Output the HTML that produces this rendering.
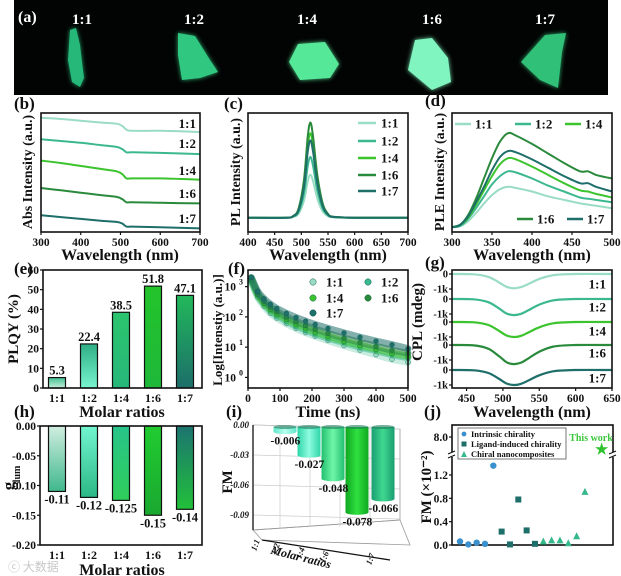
<!DOCTYPE html>
<html><head><meta charset="utf-8">
<style>
html,body{margin:0;padding:0;background:#fff;}
svg{display:block;font-family:"Liberation Serif","Noto Serif CJK SC",serif;}
.t{font-weight:bold;fill:#111;}
</style></head>
<body>
<svg id="fig" width="621" height="576" viewBox="0 0 621 576" xmlns="http://www.w3.org/2000/svg">
<defs>
<filter id="glow" x="-50%" y="-50%" width="200%" height="200%"><feGaussianBlur stdDeviation="2.5"/></filter>
<linearGradient id="ge0" x1="0" y1="0" x2="0" y2="1"><stop offset="0" stop-color="#3fbf90"/><stop offset="1" stop-color="#c8eedf"/></linearGradient>
<linearGradient id="ge1" x1="0" y1="0" x2="0" y2="1"><stop offset="0" stop-color="#2fae84"/><stop offset="1" stop-color="#78f5cf"/></linearGradient>
<linearGradient id="ge2" x1="0" y1="0" x2="0" y2="1"><stop offset="0" stop-color="#2cc46e"/><stop offset="1" stop-color="#26b87a"/></linearGradient>
<linearGradient id="ge3" x1="0" y1="0" x2="0" y2="1"><stop offset="0" stop-color="#22c42a"/><stop offset="1" stop-color="#1fb83a"/></linearGradient>
<linearGradient id="ge4" x1="0" y1="0" x2="0" y2="1"><stop offset="0" stop-color="#22b85a"/><stop offset="1" stop-color="#1c6e6a"/></linearGradient>
<linearGradient id="gh0" x1="0" y1="0" x2="0" y2="1"><stop offset="0" stop-color="#d0eee0"/><stop offset="1" stop-color="#3fb88c"/></linearGradient>
<linearGradient id="gh1" x1="0" y1="0" x2="0" y2="1"><stop offset="0" stop-color="#72f5d0"/><stop offset="1" stop-color="#2cb886"/></linearGradient>
<linearGradient id="gh2" x1="0" y1="0" x2="0" y2="1"><stop offset="0" stop-color="#28c48a"/><stop offset="1" stop-color="#2ece5a"/></linearGradient>
<linearGradient id="gh3" x1="0" y1="0" x2="0" y2="1"><stop offset="0" stop-color="#20cc30"/><stop offset="1" stop-color="#1aa830"/></linearGradient>
<linearGradient id="gh4" x1="0" y1="0" x2="0" y2="1"><stop offset="0" stop-color="#1c7470"/><stop offset="1" stop-color="#22c03a"/></linearGradient>
<linearGradient id="gi0" x1="0" y1="0" x2="1" y2="0"><stop offset="0" stop-color="#5fe6c8"/><stop offset=".5" stop-color="#b8fff0"/><stop offset="1" stop-color="#5fe6c8"/></linearGradient>
<linearGradient id="gi1" x1="0" y1="0" x2="1" y2="0"><stop offset="0" stop-color="#2ed6a8"/><stop offset=".5" stop-color="#8ffbe0"/><stop offset="1" stop-color="#2ed6a8"/></linearGradient>
<linearGradient id="gi2" x1="0" y1="0" x2="1" y2="0"><stop offset="0" stop-color="#22c070"/><stop offset=".5" stop-color="#70f5a8"/><stop offset="1" stop-color="#22c070"/></linearGradient>
<linearGradient id="gi3" x1="0" y1="0" x2="1" y2="0"><stop offset="0" stop-color="#0fa820"/><stop offset=".5" stop-color="#30e040"/><stop offset="1" stop-color="#0fa820"/></linearGradient>
<linearGradient id="gi4" x1="0" y1="0" x2="1" y2="0"><stop offset="0" stop-color="#1a9e70"/><stop offset=".5" stop-color="#40d890"/><stop offset="1" stop-color="#1a9e70"/></linearGradient>
</defs>
</svg>
<script>
// ---------- DATA ----------
const ratios = ["1:1","1:2","1:4","1:6","1:7"];
const absWl = [300,350,400,450,490,505,515,530,600,700];
const abs11 = [9.6,9.5,9.35,9.2,9.1,8.9,8.6,8.5,8.5,8.4];
const abs12 = [7.8,7.65,7.5,7.3,7.15,6.95,6.7,6.7,6.65,6.55];
const abs14 = [6.0,5.8,5.55,5.3,5.1,4.85,4.5,4.5,4.5,4.4];
const abs16 = [3.7,3.5,3.3,3.1,2.95,2.75,2.5,2.5,2.45,2.4];
const abs17 = [1.4,1.25,1.1,0.95,0.85,0.7,0.45,0.45,0.4,0.3];
const plWl = [400,470,485,495,505,512,517,522,530,540,550,560,600,700];
const pl11 = [12,12,12.7,15.6,26.4,42.6,48,42.6,28.2,17.4,13.4,12.4,12,12];
const pl12 = [12,12,13,17.1,32.4,55.4,63,55.4,35,19.7,14,12.5,12,12];
const pl14 = [12,12,13.4,19.1,40.4,72.4,83,72.4,44,22.7,14.8,12.7,12,12];
const pl16 = [12,12,13.6,20,44,80,92,80,48,24,15.2,12.8,12,12];
const pl17 = [12,12,13.3,18.5,38,67.3,77,67.3,41.3,21.8,14.6,12.7,12,12];
const pleWl = [300,310,320,330,340,350,360,370,380,400,420,440,460,470,480,500];
const ple11 = [4,5,9,16,24,31,36,38,37,34,30,27,24,23,22,20];
const ple12 = [4,5,11,20,30,40,47,51,50,45,39,34,29,28,27,25];
const ple14 = [4,6,12,23,35,47,57,62,61,55,48,41,35,34,32,29];
const ple16 = [4,6,14,28,45,62,76,83,81,74,66,58,51,51,48,45];
const ple17 = [4,6,13,25,38,52,63,68,67,61,54,47,41,41,38,34];
const plqy = [5.3,22.4,38.5,51.8,47.1];
const decayT = [10,30,50,70,90,120,150,180,210,250,300,350,400,450,500];
const decay11 = [3.15,2.65,2.35,2.12,1.96,1.78,1.62,1.48,1.36,1.22,1.05,0.9,0.75,0.6,0.5];
const decay12 = [3.2,2.72,2.42,2.2,2.04,1.86,1.7,1.56,1.44,1.3,1.15,1.0,0.88,0.75,0.65];
const decay14 = [3.25,2.75,2.45,2.25,2.1,1.92,1.76,1.63,1.5,1.36,1.2,1.06,0.93,0.8,0.7];
const decay16 = [3.3,2.8,2.52,2.33,2.18,2.0,1.85,1.72,1.6,1.46,1.3,1.16,1.03,0.9,0.8];
const decay17 = [3.3,2.85,2.6,2.42,2.28,2.12,1.98,1.86,1.75,1.62,1.47,1.33,1.2,1.08,0.95];
const cplWl = [430,460,480,495,505,515,525,535,550,570,600,650];
const cpl11 = [0,-20,-190,-570,-855,-950,-875,-665,-330,-75,0,0];
const cpl12 = [0,-20,-215,-640,-965,-1070,-985,-750,-375,-85,0,0];
const cpl14 = [0,-20,-200,-600,-900,-1000,-920,-700,-350,-80,0,0];
const cpl16 = [0,-25,-255,-760,-1145,-1270,-1170,-890,-445,-100,0,0];
const cpl17 = [0,-20,-200,-600,-900,-1000,-920,-700,-350,-80,0,0];
const glum = [-0.11,-0.12,-0.125,-0.15,-0.14];
const glumLabels = ["-0.11","-0.12","-0.125","-0.15","-0.14"];
const fm = [-0.006,-0.027,-0.048,-0.078,-0.066];
const fmLabels = ["-0.006","-0.027","-0.048","-0.078","-0.066"];
const fmIntrinsic = [0.06,0.01,0.04,0.02,1.36];
const fmLigand = [0.23,0.01,0.78,0.25,0.02];
const fmComposite = [0.06,0.08,0.08,0.03,0.15,0.91];
const fmThisWork = [7.2];

// ---------- HELPERS ----------
const svg = document.getElementById('fig');
const NS = 'http://www.w3.org/2000/svg';
const COLORS = ["#9adcc4","#3cb890","#3cc42e","#2a8a3c","#1e6e6a"];
function mk(tag, attrs, parent){const e=document.createElementNS(NS,tag);for(const k in attrs)e.setAttribute(k,attrs[k]);(parent||svg).appendChild(e);return e;}
function lin(d0,d1,r0,r1){return v=>r0+(v-d0)*(r1-r0)/(d1-d0);}
function txt(x,y,s,size,anchor,extra){const e=mk('text',Object.assign({x:x,y:y,'font-size':size,'text-anchor':anchor||'middle',class:'t'},extra||{}));if(extra&&extra.fill)e.style.fill=extra.fill;e.textContent=s;return e;}
function smooth(p){let d='M'+p[0][0].toFixed(1)+','+p[0][1].toFixed(1);for(let i=0;i<p.length-1;i++){const p0=p[i-1]||p[i],p1=p[i],p2=p[i+1],p3=p[i+2]||p2;const c1x=p1[0]+(p2[0]-p0[0])/6,c1y=p1[1]+(p2[1]-p0[1])/6,c2x=p2[0]-(p3[0]-p1[0])/6,c2y=p2[1]-(p3[1]-p1[1])/6;d+=' C'+c1x.toFixed(1)+','+c1y.toFixed(1)+' '+c2x.toFixed(1)+','+c2y.toFixed(1)+' '+p2[0].toFixed(1)+','+p2[1].toFixed(1);}return d;}
function box(x0,y0,x1,y1){return mk('rect',{x:x0,y:y0,width:x1-x0,height:y1-y0,fill:'none',stroke:'#111','stroke-width':1.6});}
function xticks(vals,sx,yb,fmt){vals.forEach(v=>{const x=sx(v);mk('line',{x1:x,y1:yb,x2:x,y2:yb+3,stroke:'#111','stroke-width':1.2});const t=txt(x,yb+14,fmt?fmt(v):String(v),11.5);

});}
function yticks(vals,sy,xl,labels){vals.forEach((v,i)=>{const y=sy(v);mk('line',{x1:xl-3,y1:y,x2:xl,y2:y,stroke:'#111','stroke-width':1.2});const t=txt(xl-4,y+4,labels?labels[i]:String(v),11.5,'end');

});}

// ---------- (a) photos ----------
const photo = mk('rect',{x:14,y:0,width:594,height:95,fill:'#020403'});


const pa = txt(18,22,'(a)',16,'start',{fill:'#fff'});


const photoLabelX=[82,194,307,432,545];
const pieces=[
 ["70,30 76,28 80,45 82,62 84,78 80,87 72,82 68,60","#25b878"],
 ["178,33 195,36 210,60 218,72 200,78 182,80 178,55","#30c880"],
 ["298,44 325,42 339,64 330,78 300,80 289,62","#55e898"],
 ["415,40 432,38 448,58 451,82 432,90 408,70","#80f5c0"],
 ["545,35 566,33 562,52 558,88 540,80 521,62","#30c078"]];
ratios.forEach((r,i)=>{
 const l=txt(photoLabelX[i],24,r,15,'middle',{fill:'#fff'});
 
 
 mk('polygon',{points:pieces[i][0],fill:pieces[i][1],filter:'url(#glow)',opacity:0.9});
 const p=mk('polygon',{points:pieces[i][0],fill:pieces[i][1]});
 
 
});

// ---------- (b) absorption ----------
{const sx=lin(300,700,41,200), sy=lin(0,10,232,113);
 [abs11,abs12,abs14,abs16,abs17].forEach((s,i)=>{const p=mk('path',{d:smooth(absWl.map((w,j)=>[sx(w),sy(s[j])])),fill:'none',stroke:COLORS[i],'stroke-width':2});
 
 });
 box(41,113,200,232);
 xticks([300,400,500,600,700],sx,232);
 const labY=[128,148,175,198,223];
 ratios.forEach((r,i)=>{const l=txt(196,labY[i],r,13,'end');
 
 });
 const xt=txt(120,260,'Wavelength (nm)',16);
 
 
 const yt=txt(0,0,'Abs Intensity (a.u.)',14,'middle',{transform:'translate(32,172) rotate(-90)'});
 
 
 const pl=txt(14,109,'(b)',17,'start');
 
 }

// ---------- (c) PL ----------
{const sx=lin(400,700,248,408), sy=lin(0,100,232,113);
 [pl11,pl12,pl14,pl16,pl17].forEach((s,i)=>{const p=mk('path',{d:smooth(plWl.map((w,j)=>[sx(w),sy(s[j])])),fill:'none',stroke:COLORS[i],'stroke-width':2});
 
 });
 box(248,113,408,232);
 xticks([400,450,500,550,600,650,700],sx,232);
 const ly=[123,141,158,175,191];
 ratios.forEach((r,i)=>{const ln=mk('line',{x1:358,y1:ly[i],x2:376,y2:ly[i],stroke:COLORS[i],'stroke-width':2.5});
 
 
 const l=txt(381,ly[i]+4.5,r,13,'start');
 
 });
 const xt=txt(328,260,'Wavelength (nm)',16);
 
 
 const yt=txt(0,0,'PL Intensity (a.u.)',14,'middle',{transform:'translate(240,172) rotate(-90)'});
 
 
 const pl=txt(224,109,'(c)',17,'start');
 
 }

// ---------- (d) PLE ----------
{const sx=lin(300,500,452,612), sy=lin(0,100,232,113);
 [ple11,ple12,ple14,ple16,ple17].forEach((s,i)=>{const p=mk('path',{d:smooth(pleWl.map((w,j)=>[sx(w),sy(s[j])])),fill:'none',stroke:COLORS[i],'stroke-width':2});
 
 });
 box(452,113,612,232);
 xticks([300,350,400,450,500],sx,232);
 const lx=[455,515,565,517,567], lyy=[124,124,124,219,219];
 ratios.forEach((r,i)=>{const ln=mk('line',{x1:lx[i],y1:lyy[i],x2:lx[i]+16,y2:lyy[i],stroke:COLORS[i],'stroke-width':2.5});
 
 
 const l=txt(lx[i]+20,lyy[i]+4.5,r,13,'start');
 
 });
 const xt=txt(532,260,'Wavelength (nm)',16);
 
 
 const yt=txt(0,0,'PLE Intensity (a.u.)',14,'middle',{transform:'translate(444,172) rotate(-90)'});
 
 
 const pl=txt(425,106,'(d)',17,'start');
 
 }

// ---------- (e) PLQY ----------
{const sy=lin(0,60,388,270); const cx=i=>57+32*i;
 plqy.forEach((v,i)=>{const r=mk('rect',{x:cx(i)-8.5,y:sy(v),width:17,height:sy(0)-sy(v),fill:'url(#ge'+i+')',stroke:'#111','stroke-width':1.2});
 
 
 const l=txt(cx(i),sy(v)-3,String(v),12.5);
 
 });
 box(43,270,202,388);
 yticks([0,10,20,30,40,50,60],sy,43);
 ratios.forEach((r,i)=>{const l=txt(cx(i),402,r,12);
 
 });
 const xt=txt(122,417,'Molar ratios',16);
 
 
 const yt=txt(0,0,'PLQY (%)',15,'middle',{transform:'translate(18,329) rotate(-90)'});
 
 
 const pl=txt(14,274,'(e)',17,'start');
 
 }

// ---------- (f) decay ----------
{const sx=lin(0,500,248,408), sy=lin(-0.35,3.55,388,270);
 const series=[decay11,decay12,decay14,decay16,decay17];
 series.forEach((s,i)=>{const pts=decayT.map((t,j)=>[sx(t),sy(s[j])]);
 const band=mk('path',{d:smooth(pts),fill:'none',stroke:COLORS[i],'stroke-width':7,opacity:0.55,'stroke-linecap':'round'});
 
 
 pts.forEach(p=>{const c=mk('circle',{cx:p[0],cy:p[1],r:2.4,fill:COLORS[i],stroke:'#0c5a4a','stroke-width':0.4});
 
 });});
 box(248,270,408,388);
 xticks([0,100,200,300,400,500],sx,388);
 [0,1,2,3].forEach(v=>{const y=sy(v);mk('line',{x1:245,y1:y,x2:248,y2:y,stroke:'#111','stroke-width':1.2});
 const t=txt(236,y+4,'10',11.5,'end');
 
 
 const e=txt(243,y-2,String(v),8,'end');
 
 });
 const lg=[[313,282],[368,282],[313,298],[368,298],[313,313]];
 ratios.forEach((r,i)=>{const c=mk('circle',{cx:lg[i][0],cy:lg[i][1],r:3.2,fill:COLORS[i],stroke:'#0c5a4a','stroke-width':0.5});
 
 
 const l=txt(lg[i][0]+13,lg[i][1]+4.5,r,13,'start');
 
 });
 const xt=txt(328,417,'Time (ns)',16);
 
 
 const yt=txt(0,0,'Log[Intenstiy (a.u.)]',13,'middle',{transform:'translate(222,330) rotate(-90)'});
 
 
 const pl=txt(228,274,'(f)',17,'start');
 
 }

// ---------- (g) CPL ----------
{const sx=lin(430,650,452,612); const zeros=[274,299,322,345,370]; const k=0.015;
 [cpl11,cpl12,cpl14,cpl16,cpl17].forEach((s,i)=>{const sy=v=>zeros[i]-v*k;
 const p=mk('path',{d:smooth(cplWl.map((w,j)=>[sx(w),sy(s[j])])),fill:'none',stroke:COLORS[i],'stroke-width':2.2});
 
 
 [[0,'0'],[-1000,'-1k']].forEach(tk=>{const y=sy(tk[0]);mk('line',{x1:449,y1:y,x2:452,y2:y,stroke:'#111','stroke-width':1.2});
 const t=txt(448,y+3.5,tk[1],10.5,'end');
 
 });});
 box(452,270,612,388);
 xticks([450,500,550,600,650],sx,388);
 const ly=[284,307,331,353,378];
 ratios.forEach((r,i)=>{const l=txt(606,ly[i]+4.5,r,13,'end');
 
 });
 const xt=txt(532,417,'Wavelength (nm)',16);
 
 
 const yt=txt(0,0,'CPL (mdeg)',15,'middle',{transform:'translate(422,322) rotate(-90)'});
 
 
 const pl=txt(425,268,'(g)',17,'start');
 
 }

// ---------- (h) glum ----------
{const sy=lin(0,-0.2,426,545); const cx=i=>57+32*i;
 glum.forEach((v,i)=>{const r=mk('rect',{x:cx(i)-8.5,y:sy(0),width:17,height:sy(v)-sy(0),fill:'url(#gh'+i+')',stroke:'#111','stroke-width':1.2});
 
 
 const l=txt(cx(i),sy(v)+12,glumLabels[i],12.5);
 
 });
 box(40,426,202,545);
 yticks([0,-0.05,-0.1,-0.15,-0.2],sy,40,['0.00','-0.05','-0.10','-0.15','-0.20']);
 ratios.forEach((r,i)=>{const l=txt(cx(i),559,r,12);
 
 });
 const xt=txt(122,575,'Molar ratios',16);
 
 
 const yt=txt(0,0,'g',17,'middle',{transform:'translate(14,486) rotate(-90)'});
 
 
 const ys=txt(0,0,'lum',10,'middle',{transform:'translate(20,474) rotate(-90)'});
 
 
 const pl=txt(14,417,'(h)',17,'start');
 
 
 const wm=mk('text',{x:8,y:571,'font-size':12,fill:'#c8c8c8','font-family':'"Noto Sans CJK SC",sans-serif'});
 wm.textContent='ⓒ 大数据';
 
 }

// ---------- (i) 3D FM ----------
{const sy=v=>425-v*1120; const cxs=[285,309,333,357,383]; const w=23;
 const wall=mk('polygon',{points:'253,425 400,429 400,520 253,530',fill:'#fff',stroke:'#999','stroke-width':0.8});
 
 
 const floor=mk('polygon',{points:'253,530 400,520 410,545 262,540',fill:'none',stroke:'#999','stroke-width':0.8});
 
 
 [0,-0.03,-0.06,-0.09].forEach(v=>{const y=425+v/-0.03*30;mk('line',{x1:253,y1:y,x2:400,y2:y+4,stroke:'#ccc','stroke-width':0.7});});
 [280,310,340,370].forEach(x=>mk('line',{x1:x,y1:426,x2:x,y2:527,stroke:'#ccc','stroke-width':0.7}));
 mk('line',{x1:253,y1:425,x2:253,y2:530,stroke:'#111','stroke-width':1.3});
 mk('line',{x1:262,y1:540,x2:390,y2:560,stroke:'#111','stroke-width':1.3});
 [['0.00',0],['-0.03',-0.03],['-0.06',-0.06],['-0.09',-0.09]].forEach(t=>{const y=425+t[1]/-0.03*30;
 const l=txt(249,y+3,t[0],9,'end',{'font-style':'italic'});
 
 });
 fm.forEach((v,i)=>{const x=cxs[i]-w/2, yb=sy(v), yt=427;
 const body=mk('rect',{x:x,y:yt,width:w,height:Math.max(0,yb-yt),fill:'url(#gi'+i+')'});
 
 
 mk('ellipse',{cx:cxs[i],cy:yb,rx:w/2,ry:2.5,fill:'url(#gi'+i+')'});
 mk('ellipse',{cx:cxs[i],cy:yt,rx:w/2,ry:2,fill:'#1a7a5a',opacity:0.6});});
 fm.forEach((v,i)=>{const x=cxs[i]-w/2, yb=sy(v);
 const l=txt(x-3,yb+13,fmLabels[i],11.5,'start');
 
 });
 const tx=[[258,546],[278,550],[303,554],[327,558],[373,560]];
 ratios.forEach((r,i)=>{const l=txt(0,0,r,8.5,'middle',{transform:'translate('+tx[i][0]+','+tx[i][1]+') rotate(-70)','font-style':'italic'});
 
 });
 const xt=txt(0,0,'Molar ratios',12,'middle',{transform:'translate(300,561) rotate(14)','font-style':'italic'});
 
 
 const yt=txt(0,0,'FM',15,'middle',{transform:'translate(232,482) rotate(-90)'});
 
 
 const pl=txt(226,417,'(i)',17,'start');
 
 }

// ---------- (j) FM comparison ----------
{const ylo=lin(0,1.2,545,475); const yhi=v=>455-(v-6.8)*15; const sx=i=>460+i*8.33;
 box(452,425,613,545);
 yticks([0,0.4,0.8,1.2],ylo,452,['0.0','0.4','0.8','1.2']);
 mk('line',{x1:449,y1:yhi(8),x2:452,y2:yhi(8),stroke:'#111','stroke-width':1.2});
 const t8=txt(448,yhi(8)+4,'8.0',11.5,'end');
 
 
 [452,613].forEach(x=>{mk('rect',{x:x-4,y:452,width:8,height:5,fill:'#fff'});
 const b=mk('path',{d:'M'+(x-4)+',454 l7,-3 M'+(x-4)+',458 l7,-3',stroke:'#111','stroke-width':1.2});
 
 });
 fmIntrinsic.forEach((v,i)=>{const c=mk('circle',{cx:sx(i),cy:ylo(v),r:3.2,fill:'#3a90cc'});
 
 });
 fmLigand.forEach((v,i)=>{const x=sx(i+5),y=ylo(v);const r=mk('rect',{x:x-3,y:y-3,width:6,height:6,fill:'#1e6e6a'});
 
 });
 fmComposite.forEach((v,i)=>{const x=sx(i+10),y=ylo(v);const p=mk('polygon',{points:(x-3.5)+','+(y+3)+' '+(x+3.5)+','+(y+3)+' '+x+','+(y-4),fill:'#35b88c'});
 
 });
 fmThisWork.forEach(v=>{const st=txt(sx(17),yhi(v)+5,'★',14,'middle',{fill:'#2ec22e'});
 
 });
 const tw=txt(591,441,'This work',10,'middle',{fill:'#3cc83c'});
 
 
 const lgb=mk('rect',{x:458,y:428,width:108,height:31,fill:'#fff',stroke:'#555','stroke-width':0.8});
 
 
 mk('circle',{cx:464,cy:434,r:2.4,fill:'#3a90cc'});
 mk('rect',{x:461.5,y:441.5,width:5,height:5,fill:'#1e6e6a'});
 mk('polygon',{points:'461,457 467,457 464,451',fill:'#35b88c'});
 [['Intrinsic chirality',437],['Ligand-induced chirality',447],['Chiral nanocomposites',457]].forEach(e=>{const l=txt(471,e[1],e[0],8.5,'start');
 
 });
 const yt=txt(0,0,'FM (×10⁻²)',15,'middle',{transform:'translate(431,487) rotate(-90)'});
 
 
 const pl=txt(424,417,'(j)',17,'start');
 
 }
</script>
</body></html>
